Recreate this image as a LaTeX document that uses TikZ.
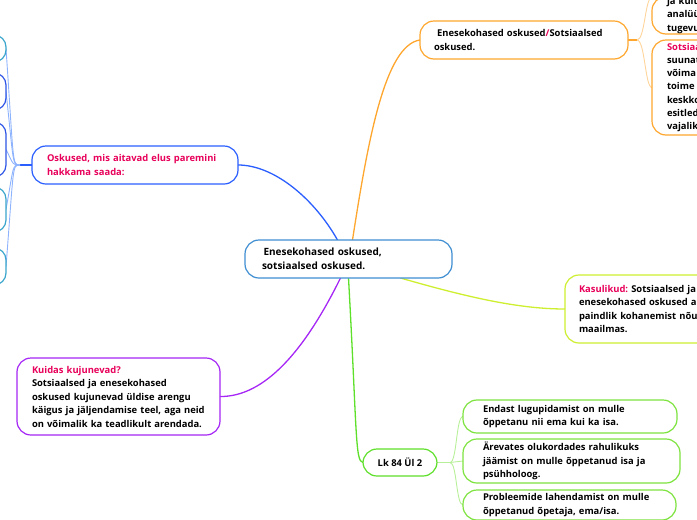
\documentclass[tikz,border=0pt]{standalone}
\usepackage{fontspec}
\setmainfont{Open Sans}
\usetikzlibrary{backgrounds}
\definecolor{cblue}{HTML}{3F8ED2}
\definecolor{bblue}{HTML}{2A5EFF}
\definecolor{lblue}{HTML}{8DB3FF}
\definecolor{teal}{HTML}{39A5CC}
\definecolor{dblue}{HTML}{2E55E6}
\definecolor{orng}{HTML}{FFA62E}
\definecolor{lorng}{HTML}{FFD49A}
\definecolor{purp}{HTML}{A526F5}
\definecolor{gmain}{HTML}{5EE02A}
\definecolor{gbox}{HTML}{7DE33F}
\definecolor{lgreen}{HTML}{B8F09A}
\definecolor{ygreen}{HTML}{CDEF30}
\definecolor{pinktext}{HTML}{E8005A}
\tikzset{
  box/.style={draw, rounded corners=14pt, line width=1.2pt, fill=white, anchor=north west,
    align=left, inner ysep=0pt, outer sep=0pt, text=black,
    font=\frenchspacing\bfseries\fontsize{9.4}{13.5}\selectfont},
  stub/.style={draw, rounded corners=12pt, line width=1.2pt, fill=white, anchor=north east,
    minimum width=100pt, inner sep=0pt, outer sep=0pt},
  mainline/.style={line width=1.3pt},
  subline/.style={line width=0.9pt},
}
\begin{document}
\begin{tikzpicture}[x=1pt,y=-1pt]
\useasboundingbox (0,0) rectangle (697,520);
% center
\node[box, draw=cblue, text width=173pt, inner xsep=17pt, minimum height=38pt,
  font=\frenchspacing\bfseries\fontsize{10}{13.5}\selectfont] (c) at (245,240)
  {\hspace{1.5pt}Enesekohased oskused,\\sotsiaalsed oskused.};
% orange branch
\node[box, draw=orng, text width=180pt, inner xsep=14pt, minimum height=38pt] (e) at (420,21)
  {\ Enesekohased oskused\textcolor{pinktext}{/}Sotsiaalsed\\oskused.};
\node[box, draw=orng, text width=200pt, inner xsep=15pt, inner ysep=0.5pt, anchor=south west] (o1) at (652,34)
  {ja kult\\analüü\\tugevu};
\node[box, draw=orng, text width=200pt, inner xsep=15pt, minimum height=95pt, font=\frenchspacing\bfseries\fontsize{9.4}{13.2}\selectfont] (o2) at (652,40)
  {\textcolor{pinktext}{Sotsiaa}\\suunat\\võima\\toime\\keskko\\esitled\\vajalik};
% yellow-green
\node[box, draw=ygreen, text width=200pt, inner xsep=14pt, minimum height=68pt] (ka) at (565,275)
  {\textcolor{pinktext}{Kasulikud:} Sotsiaalsed ja\\enesekohased oskused a\\paindlik kohanemist nõu\\maailmas.};
% blue left
\node[box, draw=bblue, text width=176pt, inner xsep=15pt, minimum height=38pt, text=pinktext] (o) at (32,146)
  {Oskused, mis aitavad elus paremini\\hakkama saada:};
\node[stub, draw=teal, minimum height=27pt] (lc1) at (6,35) {};
\node[stub, draw=dblue, minimum height=37pt] (lc2) at (6,73) {};
\node[stub, draw=dblue, minimum height=55pt] (lc3) at (6,122) {};
\node[stub, draw=teal, minimum height=45pt] (lc4) at (6,187) {};
\node[stub, draw=teal, minimum height=37pt] (lc5) at (6,248) {};
% purple
\node[box, draw=purp, text width=173pt, inner xsep=15pt, minimum height=77pt] (k) at (17,358)
  {\textcolor{pinktext}{Kuidas kujunevad?}\\Sotsiaalsed ja enesekohased\\oskused kujunevad üldise arengu\\käigus ja jäljendamise teel, aga neid\\on võimalik ka teadlikult arendada.};
% green
\node[box, draw=gmain, align=center, minimum width=74pt, minimum height=27pt, inner xsep=0pt] (l) at (363,449)
  {Lk 84 Ül 2};
\node[box, draw=gbox, text width=174pt, inner xsep=20pt, minimum height=33pt] (ga) at (463,400)
  {Endast lugupidamist on mulle\\õppetanu nii ema kui ka isa.};
\node[box, draw=gbox, text width=177pt, inner xsep=20pt, minimum height=44pt] (gb) at (463,439)
  {Ärevates olukordades rahulikuks\\jäämist on mulle õppetanud isa ja\\psühholoog.};
\node[box, draw=gbox, text width=173pt, inner xsep=20pt, minimum height=30pt] (gc) at (463,490)
  {Probleemide lahendamist on mulle\\õppetanud õpetaja, ema/isa.};
\begin{scope}[on background layer]
  % main connectors
  \draw[mainline, bblue] ([xshift=-11pt]c.north) .. controls (315,200) and (275,165) .. (o.east);
  \draw[mainline, orng] ([xshift=4pt]c.north) .. controls (368,140) and (385,45) .. (e.west);
  \draw[mainline, purp] ([xshift=-8pt]c.south) .. controls (305,350) and (265,397) .. (k.east);
  \draw[mainline, gmain] (c.south) .. controls (357,430) and (355,462) .. (l.west);
  \draw[mainline, ygreen] ([xshift=52pt]c.south) .. controls (470,298) and (520,309) .. (ka.west);
  % orange sub
  \coordinate (oj) at (637,40);
  \draw[mainline, orng] (e.east) -- (oj);
  \draw[subline, lorng] (oj) .. controls (645,40) and (645,-3) .. ([yshift=18pt]o1.west);
  \draw[subline, lorng] (oj) .. controls (645,40) and (645,87.5) .. (o2.west);
  % blue sub
  \coordinate (lj) at (20,165);
  \draw[mainline, bblue] (o.west) -- (lj);
  \foreach \n in {lc1,lc2,lc3,lc4,lc5}{
    \draw[subline, lblue] (lj) .. controls (12,165) and (14,165) .. (\n.east);
  }
  % green sub
  \coordinate (gj) at (450,462.5);
  \draw[mainline, lgreen] (l.east) -- (gj);
  \draw[subline, lgreen] (gj) .. controls (457,462.5) and (456,416.5) .. (ga.west);
  \draw[subline, lgreen] (gj) -- (gb.west);
  \draw[subline, lgreen] (gj) .. controls (457,462.5) and (456,505) .. (gc.west);
\end{scope}
\end{tikzpicture}
\end{document}
